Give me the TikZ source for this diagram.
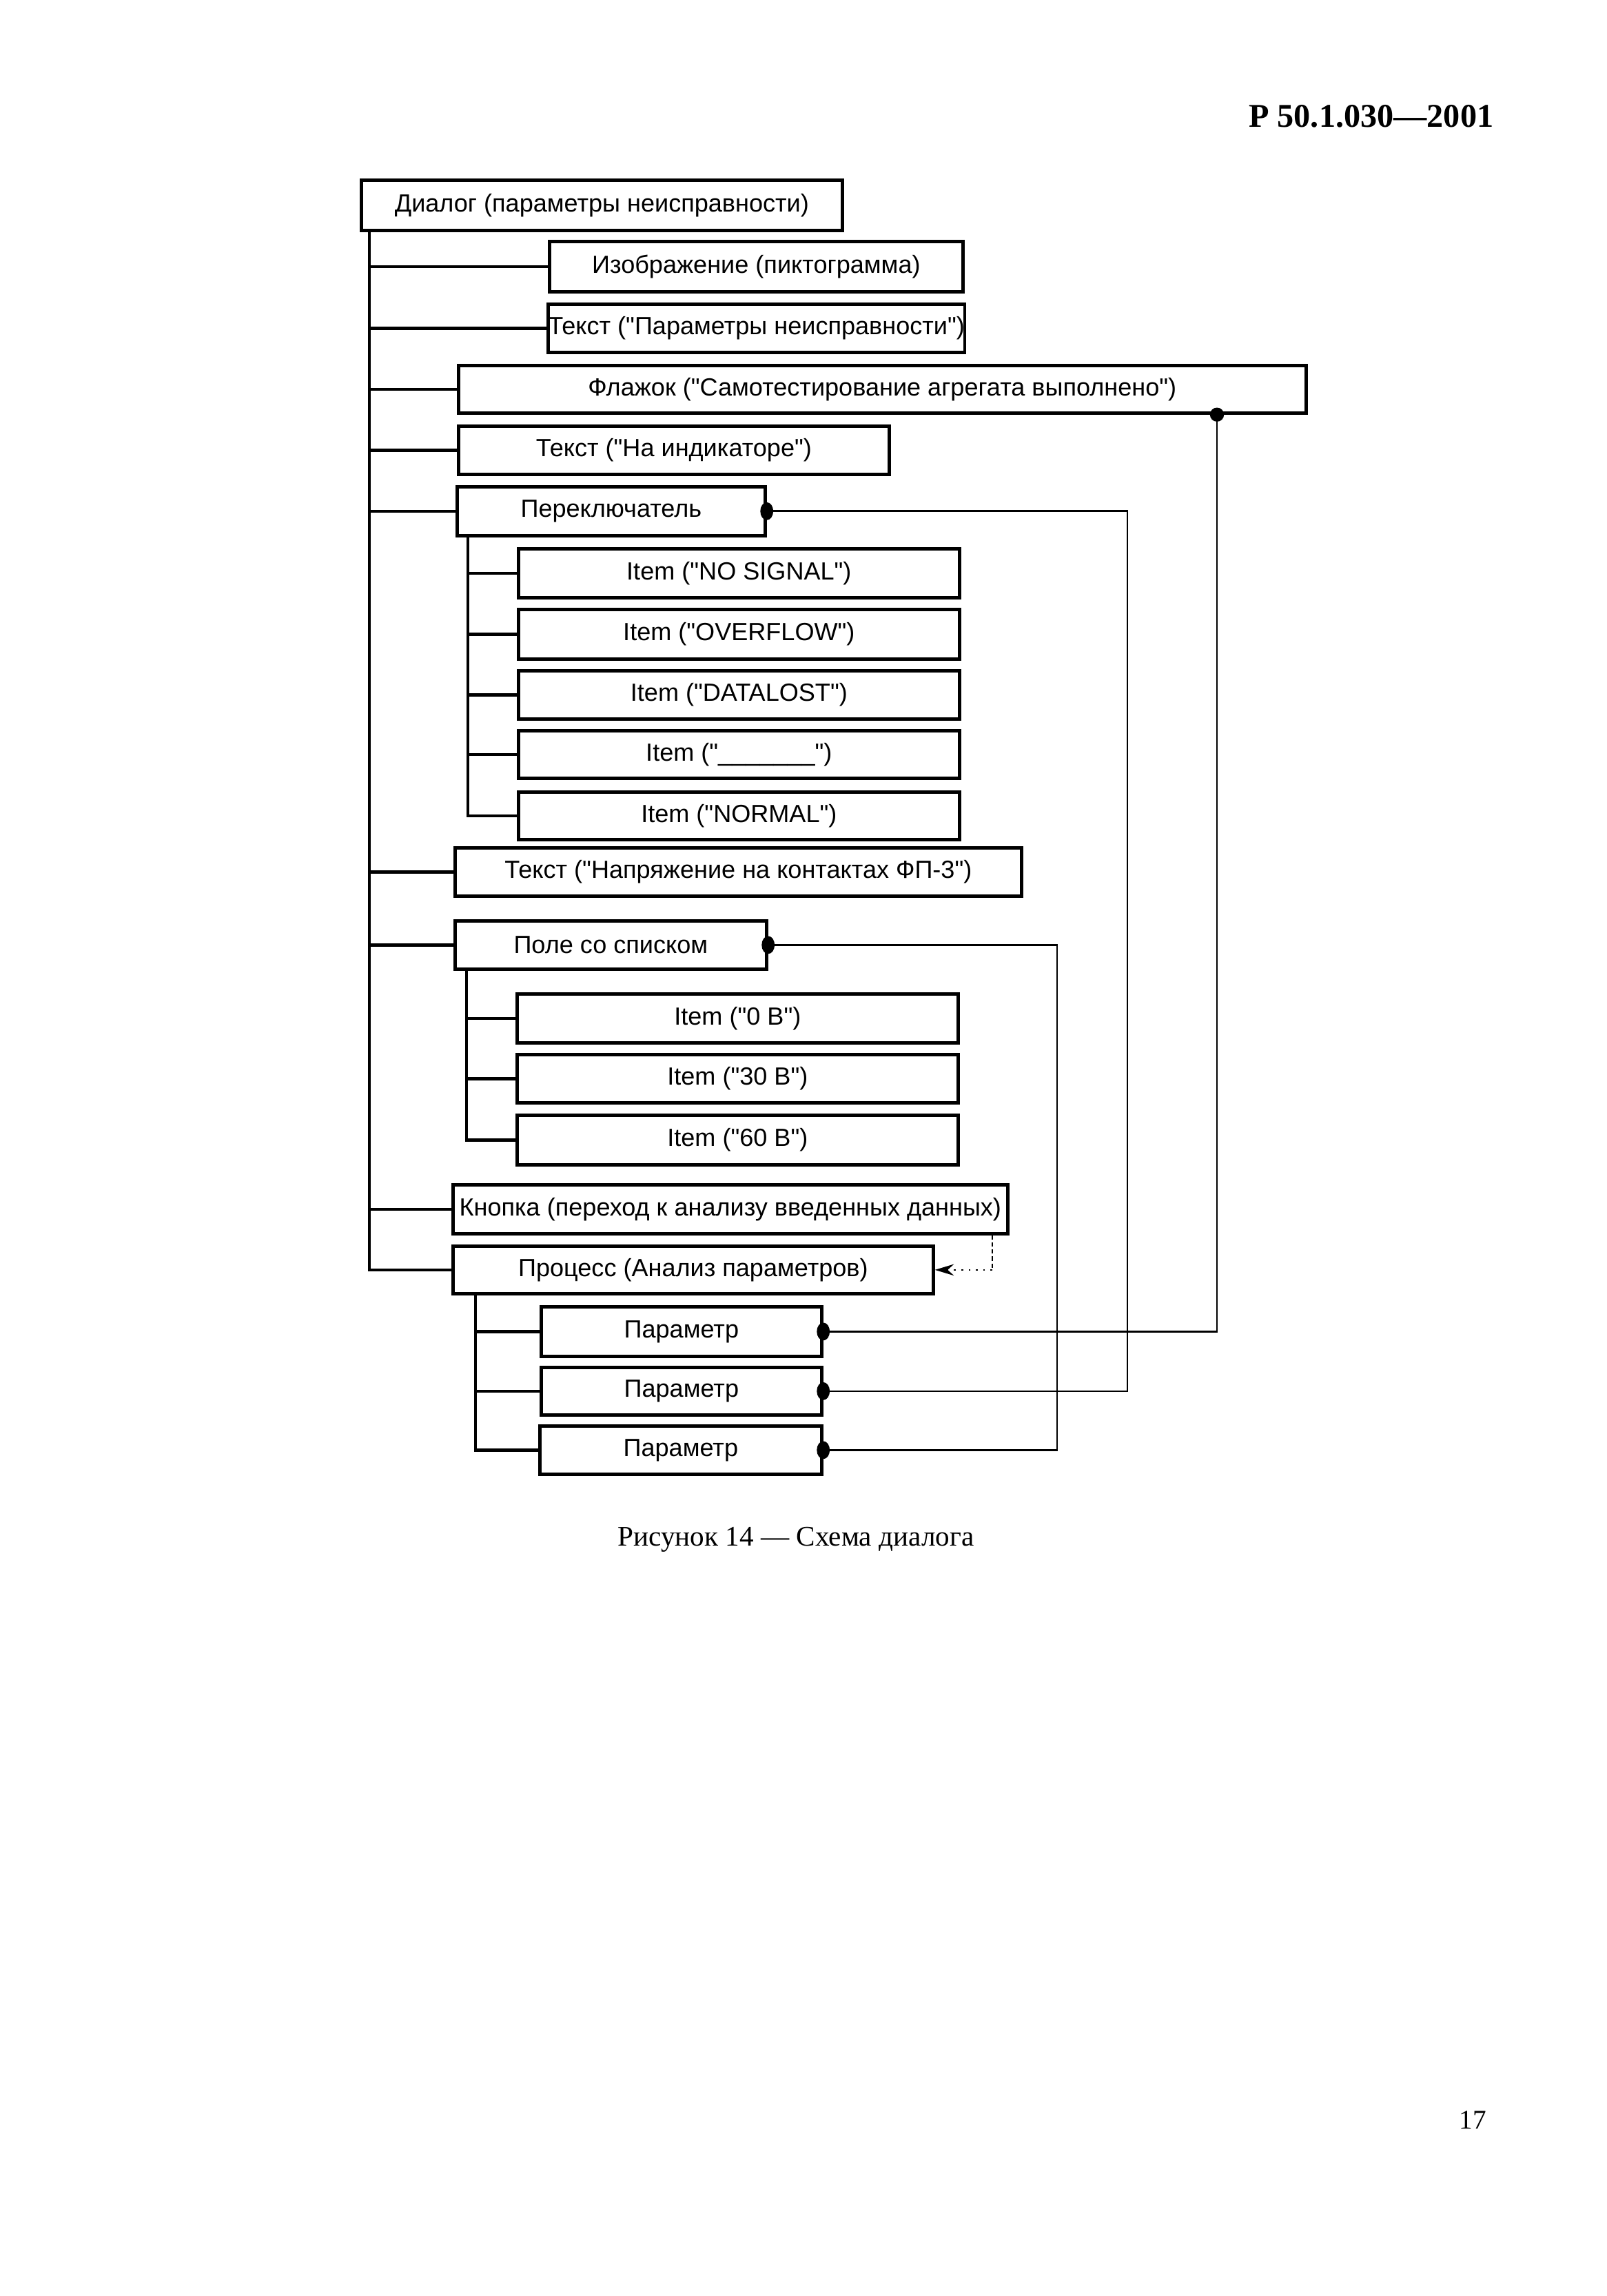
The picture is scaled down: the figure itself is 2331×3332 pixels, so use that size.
\documentclass[tikz,border=0pt]{standalone}
\usepackage{fontspec}
\setmainfont{Liberation Serif}
\newfontfamily\diagfont{Liberation Sans}
\usetikzlibrary{arrows.meta}

\begin{document}
\begin{tikzpicture}[x=0.255pt, y=-0.255pt,
  main/.style = {draw, line width=1.2pt, anchor=north west, inner sep=0pt, font=\diagfont\fontsize{9.2pt}{11pt}\selectfont},
  boxsize/.style 2 args = {minimum width=#1*0.255pt, minimum height=#2*0.255pt},
  branch/.style = {line width=1.1pt},
  link/.style = {line width=0.7pt}]
  \useasboundingbox (0,0) rectangle (2331,3332);
  \node[anchor=base east, inner sep=0pt, font=\fontsize{12.3pt}{14pt}\selectfont\bfseries] (hdr) at (2168,185) {Р 50.1.030—2001};
  \node[main, boxsize={698}{73}] (1) at (522,259) {Диалог (параметры неисправности)};
  \node[main, boxsize={600}{73}] (2) at (795,348) {Изображение (пиктограмма)};
  \node[main, boxsize={602}{70}] (3) at (793,439) {Текст ("Параметры неисправности")};
  \node[main, boxsize={1230}{69}] (4) at (663,528) {Флажок ("Самотестирование агрегата выполнено")};
  \node[main, boxsize={625}{70}] (5) at (663,616) {Текст ("На индикаторе")};
  \node[main, boxsize={447}{71}] (6) at (661,704) {Переключатель};
  \node[main, boxsize={640}{71}] (7) at (750,794) {Item ("NO SIGNAL")};
  \node[main, boxsize={640}{72}] (8) at (750,882) {Item ("OVERFLOW")};
  \node[main, boxsize={640}{70}] (9) at (750,971) {Item ("DATALOST")};
  \node[main, boxsize={640}{69}] (10) at (750,1058) {Item ("\_\_\_\_\_\_\_")};
  \node[main, boxsize={640}{69}] (11) at (750,1147) {Item ("NORMAL")};
  \node[main, boxsize={822}{70}] (12) at (658,1228) {Текст ("Напряжение на контактах ФП-3")};
  \node[main, boxsize={452}{70}] (13) at (658,1334) {Поле со списком};
  \node[main, boxsize={640}{71}] (14) at (748,1440) {Item ("0 В")};
  \node[main, boxsize={640}{70}] (15) at (748,1528) {Item ("30 В")};
  \node[main, boxsize={640}{72}] (16) at (748,1616) {Item ("60 В")};
  \node[main, boxsize={805}{71}] (17) at (655,1717) {Кнопка (переход к анализу введенных данных)};
  \node[main, boxsize={697}{69}] (18) at (655,1806) {Процесс (Анализ параметров)};
  \node[main, boxsize={407}{72}] (19) at (783,1894) {Параметр};
  \node[main, boxsize={407}{69}] (20) at (783,1982) {Параметр};
  \node[main, boxsize={409}{70}] (21) at (781,2067) {Параметр};
  \foreach \n in {2,3,4,5,6,12,13,17,18} \draw[branch] (1.south west) ++(14,0) |- (\n.west);
  \foreach \n in {7,...,11} \draw[branch] (6.south west) ++(18,0) |- (\n.west);
  \foreach \n in {14,15,16} \draw[branch] (13.south west) ++(19,0) |- (\n.west);
  \foreach \n in {19,20,21} \draw[branch] (18.south west) ++(35,0) |- (\n.west);
  \coordinate (c1) at (1766,0);
  \coordinate (c2) at (1636,0);
  \coordinate (c3) at (1534,0);
  \coordinate (c4) at (1440,0);
  \draw[link] (4.south -| c1) |- (19.east);
  \draw[link] (6.east) -| (20.east -| c2) -- (20.east);
  \draw[link] (13.east) -| (21.east -| c3) -- (21.east);
  \fill (4.south -| c1) circle[radius=2.6pt];
  \foreach \n in {6,13,19,20,21} \fill (\n.east) ellipse[x radius=2.4pt, y radius=3.3pt];
  \draw[link, dash pattern=on 1.6pt off 1pt] (17.south -| c4) -- (18.east -| c4);
  \draw[link, dotted, -{Stealth[length=7pt, width=4.2pt]}] (18.east -| c4) -- (18.east);
  \node[anchor=base, font=\fontsize{10.5pt}{12pt}\selectfont] (cap) at (1155,2243) {Рисунок 14 — Схема диалога};
  \node[anchor=base, font=\fontsize{10pt}{12pt}\selectfont] (pg) at (2137,3089) {17};
\end{tikzpicture}
\end{document}
